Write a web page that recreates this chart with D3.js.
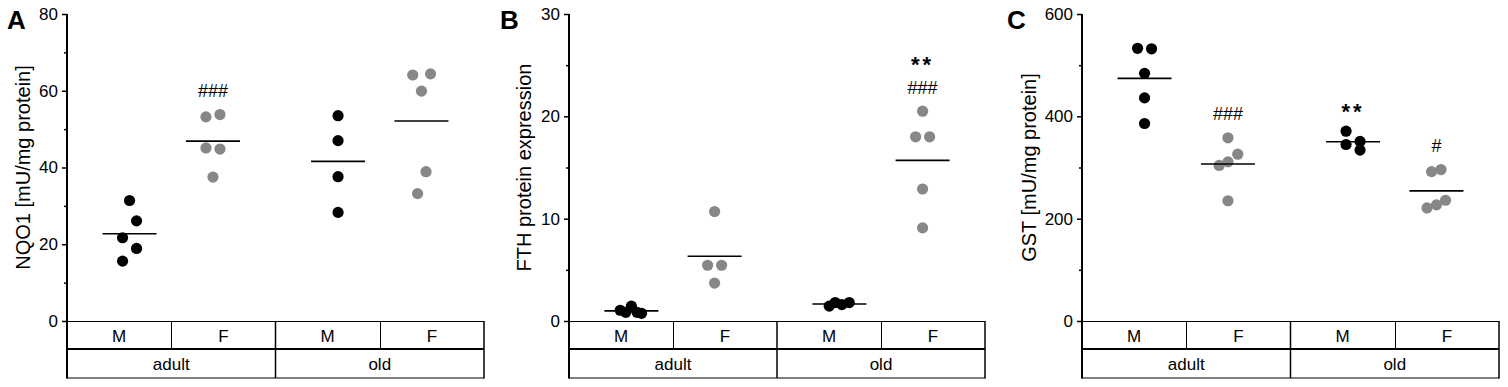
<!DOCTYPE html>
<html>
<head>
<meta charset="utf-8">
<script src="https://cdn.jsdelivr.net/npm/d3@7"></script>
<style>
  body { margin: 0; background: #fff; }
  svg { display: block; }
  text { font-family: "Liberation Sans", Arial, sans-serif; fill: #000; }
</style>
</head>
<body>
<svg id="chart" width="1508" height="387"></svg>
<script>
// ---------------- data ----------------
const sexes = ["M", "F"];
const ages = ["adult", "old"];

// Panel A: NQO1 [mU/mg protein]
const nqo1_adult_M = [31.4, 26.1, 21.7, 18.9, 15.6];
const nqo1_adult_F = [53.2, 53.8, 45.1, 44.8, 37.5];
const nqo1_old_M   = [53.5, 47.0, 37.6, 28.3];
const nqo1_old_F   = [64.1, 64.4, 59.9, 38.9, 33.2];

// Panel B: FTH protein expression
const fth_adult_M = [1.05, 0.85, 1.45, 0.85, 0.75];
const fth_adult_F = [10.7, 5.45, 5.45, 3.7];
const fth_old_M   = [1.45, 1.8, 1.6, 1.8];
const fth_old_F   = [20.5, 18.0, 18.0, 12.9, 9.1];

// Panel C: GST [mU/mg protein]
const gst_adult_M = [533, 532, 484, 436, 386];
const gst_adult_F = [358, 326, 311, 304, 235];
const gst_old_M   = [371, 345, 351, 334];
const gst_old_F   = [292, 296, 221, 227, 236];

// tick values
const ticksA = [0, 20, 40, 60, 80],   minorA = [10, 30, 50, 70];
const ticksB = [0, 10, 20, 30],       minorB = [5, 15, 25];
const ticksC = [0, 200, 400, 600],    minorC = [100, 300, 500];

// significance labels (per group: adult M, adult F, old M, old F; bottom to top)
const annotA = [[], ["###"], [], []];
const annotB = [[], [], [], ["###", "**"]];
const annotC = [[], ["###"], ["**"], ["#"]];

// horizontal scatter slots of the dots (in dot-step units)
const jitterA = [[0, 1, -1, 1, -1], [-1, 1, -1, 1, 0], [0, 0, 0, 0], [-1.25, 1.3, 0, 0.65, -0.55]];
const jitterB = [[-1.6, -0.8, 0, 0.8, 1.45], [0, -1, 1, 0], [-1.45, -0.6, 0.35, 1.4], [0, -1, 1, 0, 0]];
const jitterC = [[-1, 1, 0, 0, 0], [0, 1.4, 0, -1.25, 0], [-1, -1, 1, 1], [-0.7, 0.65, -1.35, 0, 1.3]];

// ---------------- layout ----------------
const panels = [
  { letter: "A", title: "NQO1 [mU/mg protein]", yMax: 80, major: ticksA, minor: minorA,
    series: [nqo1_adult_M, nqo1_adult_F, nqo1_old_M, nqo1_old_F], jitter: jitterA, annot: annotA,
    left: 67, right: 484, letterX: 7, titleX: 23 },
  { letter: "B", title: "FTH protein expression", yMax: 30, major: ticksB, minor: minorB,
    series: [fth_adult_M, fth_adult_F, fth_old_M, fth_old_F], jitter: jitterB, annot: annotB,
    left: 569, right: 985, letterX: 500, titleX: 523.5 },
  { letter: "C", title: "GST [mU/mg protein]", yMax: 600, major: ticksC, minor: minorC,
    series: [gst_adult_M, gst_adult_F, gst_old_M, gst_old_F], jitter: jitterC, annot: annotC,
    left: 1082, right: 1499, letterX: 1007, titleX: 1028.5 }
];

const TOP = 14, ZERO = 321, ROW1 = 349, ROW2 = 378;
const R = 5.6, STEP = 7, HALF_MEAN = 27;
const GRAY = "#878787";

const svg = d3.select("#chart");

panels.forEach(p => {
  const g = svg.append("g");
  const y = d3.scaleLinear().domain([0, p.yMax]).range([ZERO, TOP]);
  const xAge = d3.scaleBand().domain(ages).range([p.left, p.right]).padding(0);
  const xSexPt = d3.scalePoint().domain(sexes).range([0, xAge.bandwidth()]).padding(0.75);
  const xSexBand = d3.scaleBand().domain(sexes).range([0, xAge.bandwidth()]).padding(0);

  // panel letter
  g.append("text").attr("x", p.letterX).attr("y", 29)
    .style("font-size", "26px").style("font-weight", "bold").text(p.letter);

  // y title
  g.append("text")
    .attr("transform", `translate(${p.titleX},${(TOP + ZERO) / 2}) rotate(-90)`)
    .attr("text-anchor", "middle").attr("dominant-baseline", "central")
    .style("font-size", "20px").text(p.title);

  // minor ticks
  const minorAxis = d3.axisLeft(y).tickValues(p.minor).tickSize(3).tickFormat("").tickSizeOuter(0);
  const gm = g.append("g").attr("transform", `translate(${p.left},0)`).call(minorAxis);
  gm.select(".domain").remove();
  gm.selectAll("line").attr("stroke-width", 1.5);

  // major axis
  const majorAxis = d3.axisLeft(y).tickValues(p.major).tickSize(5).tickPadding(4).tickSizeOuter(0);
  const ga = g.append("g").attr("transform", `translate(${p.left},0)`).call(majorAxis);
  ga.select(".domain").remove();
  ga.selectAll("line").attr("stroke-width", 1.5);
  ga.selectAll("text").style("font-size", "17px").style("font-family", "'Liberation Sans', Arial, sans-serif");

  // category table frame
  const line = (x1, y1, x2, y2, w) => g.append("line")
    .attr("x1", x1).attr("y1", y1).attr("x2", x2).attr("y2", y2)
    .attr("stroke", "#000").attr("stroke-width", w);
  line(p.left, TOP, p.left, ROW2 + 0.5, 2);            // y axis + left border
  line(p.left, ZERO + 0.5, p.right, ZERO + 0.5, 1);    // top of table
  line(p.left, ROW1, p.right, ROW1, 2);                // middle
  line(p.left, ROW2, p.right, ROW2, 1.2);              // bottom
  line(p.right, ZERO, p.right, ROW2 + 0.5, 1.5);       // right border
  line(xAge("old"), ZERO, xAge("old"), ROW2, 1.5);     // age divider
  ages.forEach(a => {
    line(Math.round(xAge(a) + xSexBand("F")) + 0.5, ZERO, Math.round(xAge(a) + xSexBand("F")) + 0.5, ROW1, 1);
    sexes.forEach(s => {
      g.append("text").attr("x", xAge(a) + xSexBand(s) + xSexBand.bandwidth() / 2).attr("y", 341.5)
        .attr("text-anchor", "middle").style("font-size", "17px").text(s);
    });
    g.append("text").attr("x", xAge(a) + xAge.bandwidth() / 2).attr("y", 370)
      .attr("text-anchor", "middle").style("font-size", "17px").text(a);
  });

  // groups
  const combos = [["adult", "M"], ["adult", "F"], ["old", "M"], ["old", "F"]];
  combos.forEach(([a, s], i) => {
    const vals = p.series[i];
    const cx = xAge(a) + xSexPt(s);
    const color = s === "M" ? "#000" : GRAY;
    g.append("g").selectAll("circle").data(vals).join("circle")
      .attr("cx", (d, k) => cx + p.jitter[i][k] * STEP)
      .attr("cy", d => y(d))
      .attr("r", R).attr("fill", color);
    const m = d3.mean(vals);
    g.append("line").attr("x1", cx - HALF_MEAN).attr("x2", cx + HALF_MEAN)
      .attr("y1", y(m)).attr("y2", y(m)).attr("stroke", "#000").attr("stroke-width", 1.6);
    const top = y(d3.max(vals));
    p.annot[i].forEach((t, j) => {
      const c = top - 24 - j * 27;
      const isStar = t.includes("*");
      g.append("text").attr("x", cx).attr("y", isStar ? c + 12 : c + 6.5)
        .attr("text-anchor", "middle")
        .style("font-size", isStar ? "22px" : "18px")
        .style("font-weight", isStar ? "bold" : "normal")
        .style("letter-spacing", isStar ? "3px" : "0px")
        .text(t);
    });
  });
});
</script>
</body>
</html>
